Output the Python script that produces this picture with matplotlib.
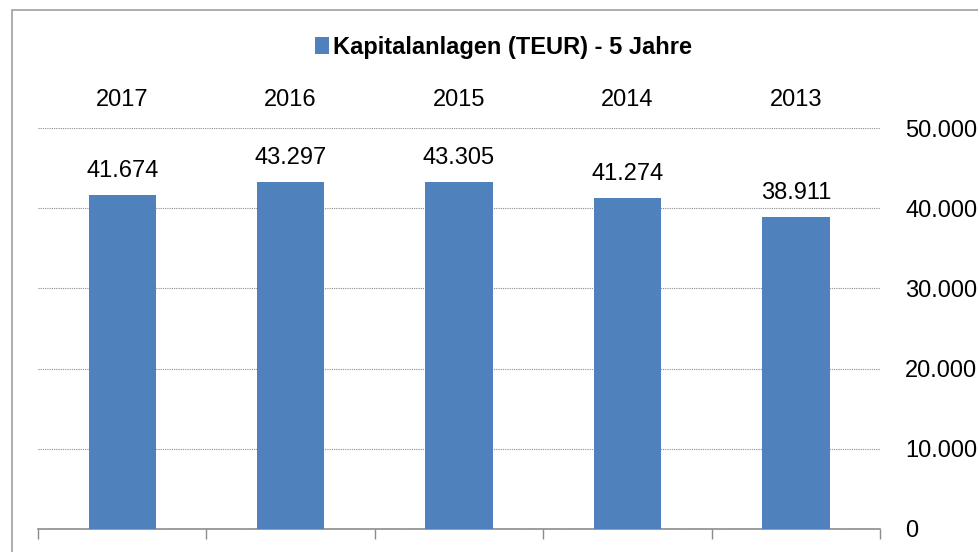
import numpy as np
import matplotlib.pyplot as plt
from matplotlib.patches import Rectangle

plt.rcParams['font.family'] = ['Liberation Sans', 'DejaVu Sans']

# data
years = ["2017", "2016", "2015", "2014", "2013"]
values = [41674, 43297, 43305, 41274, 38911]
yticks = [0, 10000, 20000, 30000, 40000, 50000]
series_name = "Kapitalanlagen (TEUR) - 5 Jahre"


def de_fmt(v):
    return f"{v:,.0f}".replace(",", ".")


fig = plt.figure(figsize=(9.79, 5.52), dpi=100)
ax = fig.add_axes([0.0388, 0.0417, 0.8601, 0.7264])

x = np.arange(len(years))
bars = ax.bar(x, values, width=0.4, color="#4F81BD", label=series_name, zorder=3)

for xi, v in zip(x, values):
    ax.annotate(de_fmt(v), (xi, v), xytext=(0, 9), textcoords="offset points",
                ha="center", va="bottom", fontsize=17, color="black")

ax.set_xlim(-0.5, len(years) - 0.5)
ax.set_ylim(0, 50000)

# y axis on the right
ax.yaxis.tick_right()
ax.set_yticks(yticks)
ax.set_yticklabels([de_fmt(v) for v in yticks])
ax.tick_params(axis="y", length=0, pad=18, labelsize=17)
ax.grid(axis="y", color="#8c8c8c", linestyle=(0, (1, 1)), linewidth=0.8, zorder=0)

# year labels on top, boundary ticks at bottom
ax.set_xticks(x)
ax.set_xticklabels(years)
ax.set_xticks(np.arange(-0.5, len(years)), minor=True)
ax.tick_params(axis="x", which="major", bottom=False, top=False,
               labelbottom=False, labeltop=True, labelsize=17, pad=9)
ax.tick_params(axis="x", which="minor", bottom=True, top=False,
               direction="out", length=7, width=1, color="#8c8c8c")

for s in ["top", "right", "left"]:
    ax.spines[s].set_visible(False)
ax.spines["bottom"].set_color("#8c8c8c")
ax.spines["bottom"].set_linewidth(1.2)

ax.legend(loc="center", bbox_to_anchor=(0.514, 0.914), bbox_transform=fig.transFigure,
          frameon=False, handlelength=0.6, handleheight=0.75, handletextpad=0.17,
          prop={"size": 17, "weight": "bold"})

# outer chart border (cut off at right and bottom)
fig.patches.append(Rectangle((12 / 979, -0.05), 1.1, 1 - 10 / 552 + 0.05,
                             transform=fig.transFigure, fill=False,
                             edgecolor="#a0a0a0", linewidth=1.2))

fig.savefig("out.png", dpi=100)
